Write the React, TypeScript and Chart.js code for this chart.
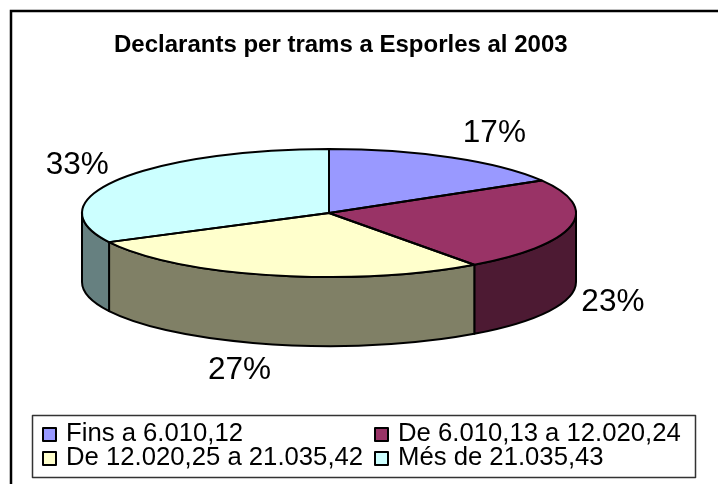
import React, { useEffect, useRef } from "react";
import { Chart, registerables } from "chart.js";

Chart.register(...registerables);

const titleText = "Declarants per trams a Esporles al 2003";
const categories = ["Fins a 6.010,12", "De 6.010,13 a 12.020,24", "De 12.020,25 a 21.035,42", "Més de 21.035,43"];
const shares = [16.5, 23.49, 27.49, 32.52];
const topColours = ["#9999FF", "#993366", "#FFFFCC", "#CCFFFF"];
const sideColours = ["#4C4C80", "#4D1A33", "#808066", "#668080"];

const FONT = '"Liberation Sans", Arial, sans-serif';
const PIE = { cx: 329, cy: 213, rx: 247, ry: 64, depth: 69 };
const labelNudge = [[43, -24], [42, 7], [-32, 26], [-41, -14]];

const pie3d = {
  id: "pie3d",
  beforeDraw(chart: any) {
    const c = chart.ctx;
    c.save();
    c.fillStyle = "#fff";
    c.fillRect(0, 0, chart.width, chart.height);
    c.strokeStyle = "#000";
    c.lineWidth = 2.5;
    c.beginPath();
    c.moveTo(11, 484);
    c.lineTo(11, 11);
    c.lineTo(718, 11);
    c.stroke();
    c.restore();
  },
  beforeDatasetsDraw(chart: any) {
    const c = chart.ctx;
    const arcs = chart.getDatasetMeta(0).data;
    c.save();
    c.lineWidth = 2;
    c.strokeStyle = "#000";
    c.lineJoin = "round";
    arcs.forEach((arc: any, i: number) => {
      const s = Math.max(arc.startAngle, 0);
      const e = Math.min(arc.endAngle, Math.PI);
      if (e <= s) return;
      c.beginPath();
      c.ellipse(PIE.cx, PIE.cy, PIE.rx, PIE.ry, 0, s, e);
      c.ellipse(PIE.cx, PIE.cy + PIE.depth, PIE.rx, PIE.ry, 0, e, s, true);
      c.closePath();
      c.fillStyle = sideColours[i];
      c.fill();
      c.stroke();
    });
    c.restore();
    const a = arcs[0];
    c.save();
    c.translate(PIE.cx, PIE.cy);
    c.scale(PIE.rx / a.outerRadius, PIE.ry / a.outerRadius);
    c.translate(-a.x, -a.y);
  },
  afterDatasetsDraw(chart: any) {
    const c = chart.ctx;
    c.restore();
    const arcs = chart.getDatasetMeta(0).data;
    c.save();
    c.lineWidth = 2;
    c.strokeStyle = "#000";
    c.lineJoin = "round";
    arcs.forEach((arc: any) => {
      c.beginPath();
      c.moveTo(PIE.cx, PIE.cy);
      c.ellipse(PIE.cx, PIE.cy, PIE.rx, PIE.ry, 0, arc.startAngle, arc.endAngle);
      c.closePath();
      c.stroke();
    });
    // value labels
    c.fillStyle = "#000";
    c.font = `31.5px ${FONT}`;
    c.textAlign = "center";
    c.textBaseline = "middle";
    arcs.forEach((arc: any, i: number) => {
      const m = (arc.startAngle + arc.endAngle) / 2;
      const x = PIE.cx + PIE.rx * Math.cos(m);
      let y = PIE.cy + PIE.ry * Math.sin(m);
      if (Math.sin(m) > 0) y += PIE.depth;
      c.fillText(`${Math.round(shares[i])}%`, x + labelNudge[i][0], y + labelNudge[i][1]);
    });
    // legend
    c.strokeStyle = "#333";
    c.lineWidth = 1.5;
    c.strokeRect(32.5, 415.5, 663, 62);
    c.font = `25.7px ${FONT}`;
    c.textAlign = "left";
    c.textBaseline = "alphabetic";
    categories.forEach((label, i) => {
      const col = i % 2;
      const row = Math.floor(i / 2);
      const sx = col ? 375 : 43;
      const tx = col ? 398 : 66;
      const base = row ? 465 : 441;
      c.fillStyle = topColours[i];
      c.fillRect(sx, base - 13, 13, 13);
      c.strokeStyle = "#000";
      c.lineWidth = 2;
      c.strokeRect(sx, base - 13, 13, 13);
      c.fillStyle = "#000";
      c.fillText(label, tx, base);
    });
    c.restore();
  },
};

export default function App() {
  const ref = useRef<HTMLCanvasElement>(null);
  useEffect(() => {
    const chart = new Chart(ref.current as HTMLCanvasElement, {
      type: "pie",
      data: {
        labels: categories,
        datasets: [{ data: shares, backgroundColor: topColours, borderWidth: 0, clip: false } as any],
      },
      options: {
        animation: false,
        responsive: false,
        rotation: 0,
        layout: { padding: { left: 114, top: 31, right: 100, bottom: 60 } },
        plugins: {
          legend: { display: false },
          tooltip: { enabled: false },
          title: {
            display: true,
            text: titleText,
            align: "start",
            color: "#000",
            padding: 0,
            font: { family: FONT, size: 24, weight: "bold" },
          },
        },
      } as any,
      plugins: [pie3d],
    });
    return () => chart.destroy();
  }, []);
  return (
    <div style={{ position: "absolute", left: 0, top: 0, width: 718, height: 484, background: "#fff" }}>
      <canvas ref={ref} width={718} height={484} style={{ display: "block" }} />
    </div>
  );
}
